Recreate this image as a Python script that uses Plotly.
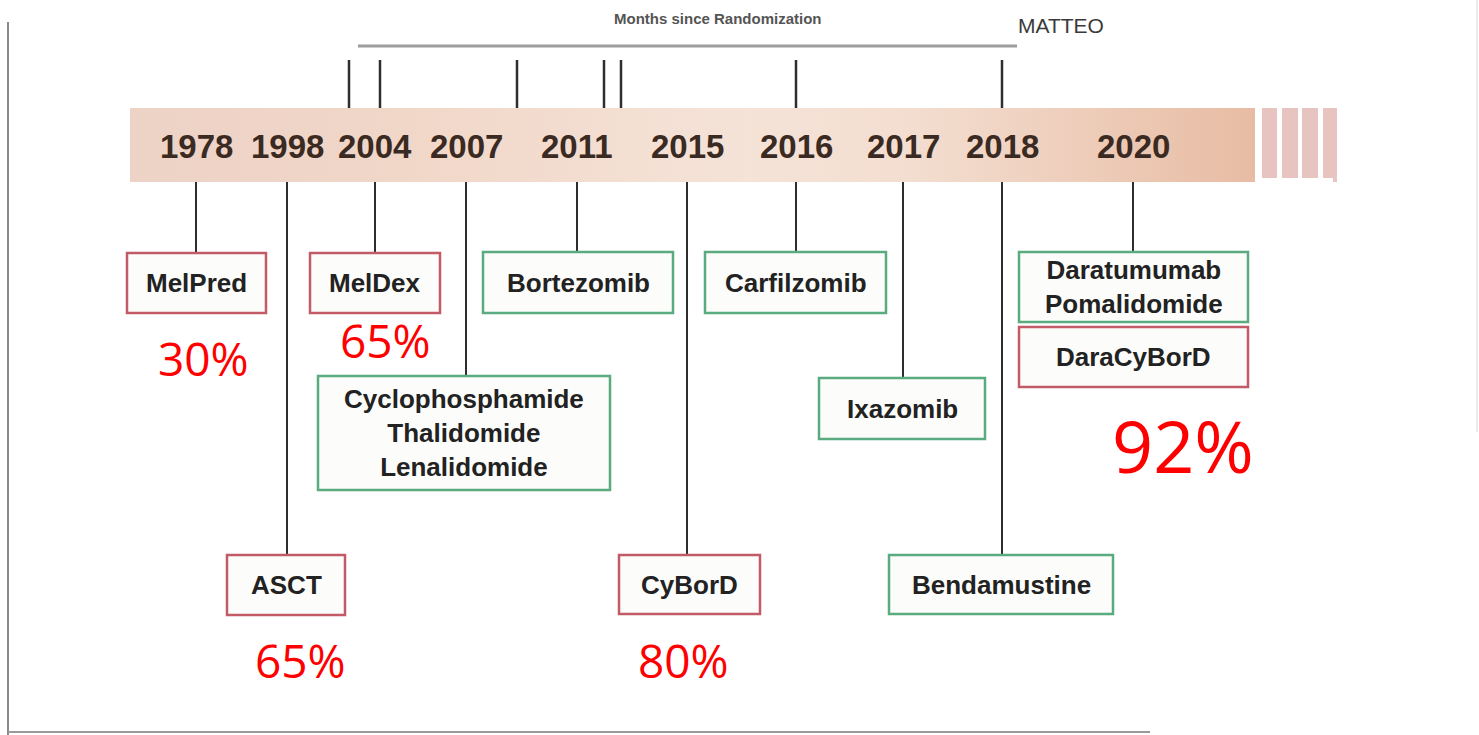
import plotly.graph_objects as go

# ---------------- data ----------------
years = ["1978", "1998", "2004", "2007", "2011", "2015", "2016", "2017", "2018", "2020"]
treatments = ["MelPred", "ASCT", "MelDex", "Cyclophosphamide<br>Thalidomide<br>Lenalidomide",
              "Bortezomib", "CyBorD", "Carfilzomib", "Ixazomib", "Bendamustine",
              "Daratumumab<br>Pomalidomide", "DaraCyBorD"]
treatment_year = ["1978", "1998", "2004", "2007", "2011", "2015", "2016", "2017", "2018", "2020", "2020"]
treatment_kind = ["regimen", "regimen", "regimen", "drug", "drug", "regimen", "drug", "drug", "drug",
                  "drug", "regimen"]
response_treatment = ["MelPred", "MelDex", "ASCT", "CyBorD", "DaraCyBorD"]
response_rate = ["30%", "65%", "65%", "80%", "92%"]
title_text = "Months since Randomization"
corner_text = "MATTEO"

# ---------------- layout (pixel space) ----------------
W, H = 1479, 735
year_x = [196, 287, 375, 466, 577, 687, 796, 903, 1002, 1133]
band = dict(x0=130, x1=1255, y0=108, y1=182)
# box geometry: left, right, top, bottom
box_geom = [
    (127, 266, 253, 313), (227, 345, 555, 615), (310, 440, 253, 313), (318, 610, 376, 490),
    (483, 673, 252, 313), (619, 760, 555, 614), (705, 886, 252, 313), (819, 985, 378, 439),
    (889, 1113, 555, 614), (1019, 1248, 252, 322), (1019, 1248, 327, 387),
]
has_connector = [True] * 10 + [False]
resp_pos = [(203, 358, 46), (385, 340, 46), (300, 660, 46), (683, 660, 46), (1183, 445, 72)]
upper_ticks_x = [349, 380, 517, 604, 621, 796, 1002]

kind_color = {"regimen": "#c25a68", "drug": "#5aab80"}
dark = "#2e2e2e"

fig = go.Figure()

# gradient band
fig.add_trace(go.Scatter(
    x=[band["x0"], band["x1"], band["x1"], band["x0"], band["x0"]],
    y=[band["y0"], band["y0"], band["y1"], band["y1"], band["y0"]],
    mode="lines", line=dict(width=0), fill="toself",
    fillgradient=dict(type="horizontal", colorscale=[
        [0, "#edd2c6"], [0.25, "#f1d7c8"], [0.55, "#f5e3d8"], [0.7, "#f3ddcf"], [1, "#e8bca4"]]),
    hoverinfo="skip", showlegend=False))

shapes = []
# stripes after band
for x0, x1 in [(1262, 1277), (1282, 1298), (1302, 1318), (1323, 1337)]:
    shapes.append(dict(type="rect", x0=x0, x1=x1, y0=108, y1=182, fillcolor="#e8c4c1",
                       line=dict(width=0), layer="below"))
shapes.append(dict(type="rect", x0=1257, x1=1333, y0=178, y1=195, fillcolor="white",
                   line=dict(width=0)))

# frame lines
shapes.append(dict(type="line", x0=8, x1=8, y0=22, y1=735, line=dict(color="#8a8a8a", width=2)))
shapes.append(dict(type="line", x0=8, x1=1150, y0=732, y1=732, line=dict(color="#9a9a9a", width=2)))
shapes.append(dict(type="line", x0=1477, x1=1477, y0=0, y1=432, line=dict(color="#d8d8d8", width=1)))
shapes.append(dict(type="line", x0=358, x1=1017, y0=46, y1=46, line=dict(color="#9c9c9c", width=3)))

# ticks above band
for tx in upper_ticks_x:
    shapes.append(dict(type="line", x0=tx, x1=tx, y0=60, y1=108, line=dict(color=dark, width=2.5)))

# connectors and boxes
annotations = []
for name, yr, kind, (l, r, t, b), conn in zip(treatments, treatment_year, treatment_kind,
                                                 box_geom, has_connector):
    cx = year_x[years.index(yr)]
    if conn:
        shapes.append(dict(type="line", x0=cx, x1=cx, y0=band["y1"], y1=t,
                           line=dict(color=dark, width=2)))
    shapes.append(dict(type="rect", x0=l, x1=r, y0=t, y1=b, fillcolor="#fcfcfa",
                       line=dict(color=kind_color[kind], width=2.5)))
    annotations.append(dict(x=(l + r) / 2, y=(t + b) / 2, text=name, showarrow=False,
                            xanchor="center", yanchor="middle",
                            font=dict(family="Liberation Sans, Arial", size=26, color="#222222",
                                      weight="bold")))

# year labels
for yr, x in zip(years, year_x):
    annotations.append(dict(x=x, y=146, text=yr, showarrow=False, xanchor="center",
                            yanchor="middle",
                            font=dict(family="Liberation Sans, Arial", size=33, color="#3a2a22",
                                      weight="bold")))

# response rates
for trt, rate, (x, y, s) in zip(response_treatment, response_rate, resp_pos):
    annotations.append(dict(x=x, y=y, text=rate, showarrow=False, xanchor="center",
                            yanchor="middle",
                            font=dict(family="Open Sans, Liberation Sans", size=s, color="#ff0000")))

annotations.append(dict(x=718, y=18, text=title_text, showarrow=False, xanchor="center",
                        yanchor="middle",
                        font=dict(family="Liberation Sans, Arial", size=15,
                                  color="#555555", weight="bold")))
annotations.append(dict(x=1016, y=25, text=corner_text, showarrow=False, xanchor="left",
                        yanchor="middle",
                        font=dict(family="Liberation Sans, Arial", size=21,
                                  color="#3a3a3a")))

fig.update_layout(
    width=W, height=H, margin=dict(l=0, r=0, t=0, b=0),
    paper_bgcolor="white", plot_bgcolor="white",
    xaxis=dict(range=[0, W], visible=False, fixedrange=True),
    yaxis=dict(range=[H, 0], visible=False, fixedrange=True),
    shapes=shapes, annotations=annotations, showlegend=False,
)

fig.write_html("out.html", config={"displayModeBar": False},
               post_script="document.body.style.margin='0';document.body.style.overflow='hidden';")
